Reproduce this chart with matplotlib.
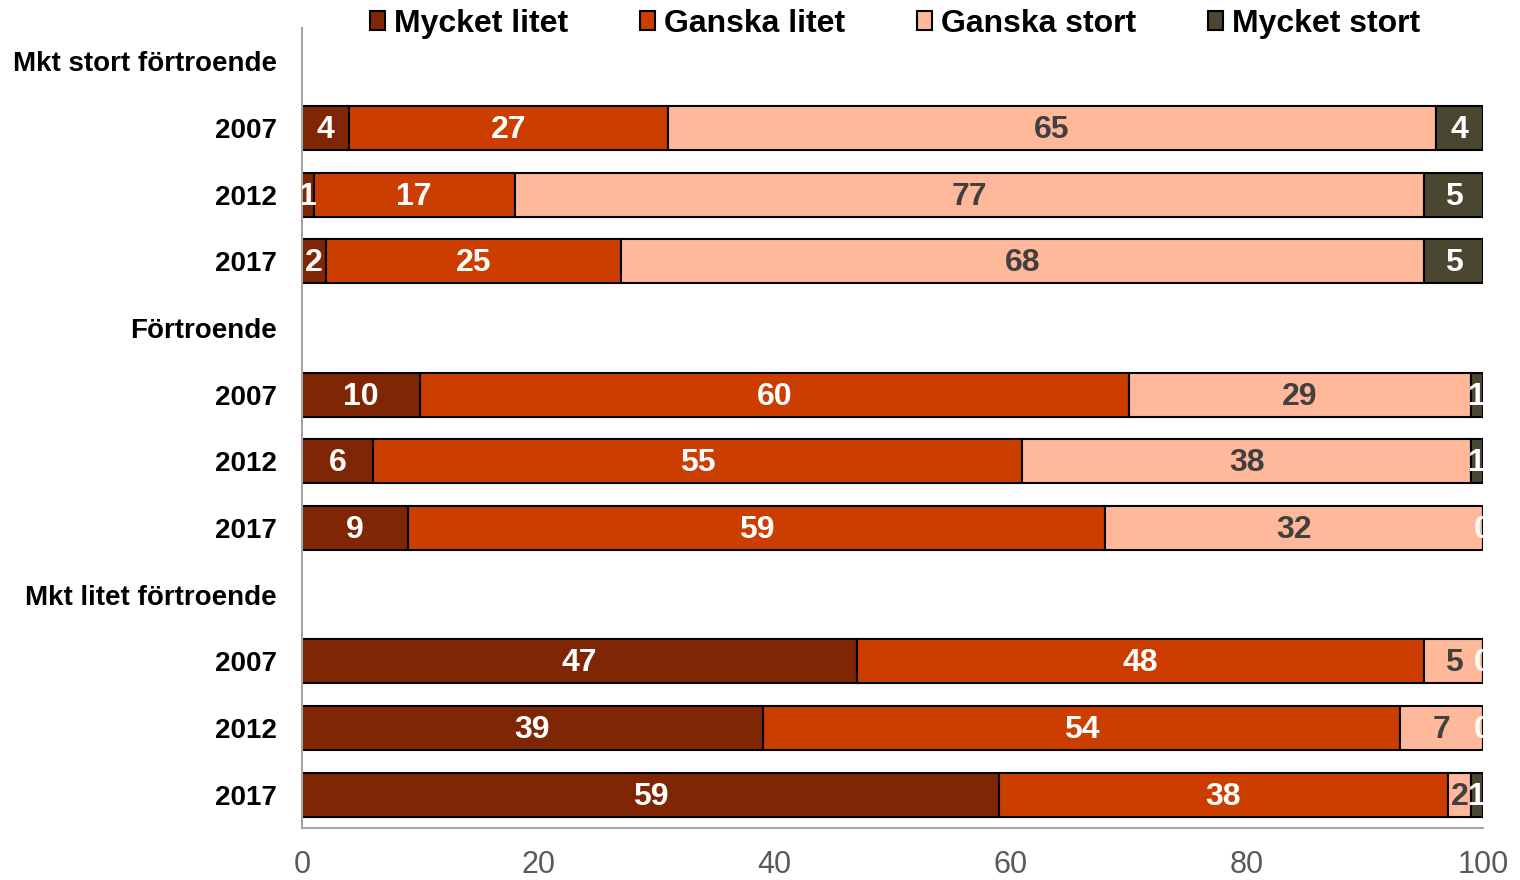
import numpy as np
import matplotlib.pyplot as plt

plt.rcParams['font.family'] = ['Liberation Sans', 'DejaVu Sans']

series = ['Mycket litet', 'Ganska litet', 'Ganska stort', 'Mycket stort']
colors = ['#7F2704', '#CC3D00', '#FFB89A', '#4B4630']
text_colors = ['white', 'white', '#404040', 'white']

row_labels = ['Mkt stort förtroende', '2007', '2012', '2017',
              'Förtroende', '2007', '2012', '2017',
              'Mkt litet förtroende', '2007', '2012', '2017']

# one list per series, None for header rows
mycket_litet = [None, 4, 1, 2, None, 10, 6, 9, None, 47, 39, 59]
ganska_litet = [None, 27, 17, 25, None, 60, 55, 59, None, 48, 54, 38]
ganska_stort = [None, 65, 77, 68, None, 29, 38, 32, None, 5, 7, 2]
mycket_stort = [None, 4, 5, 5, None, 1, 1, 0, None, 0, 0, 1]
values = [mycket_litet, ganska_litet, ganska_stort, mycket_stort]

fig = plt.figure(figsize=(15.2, 8.8), dpi=100)
ax = fig.add_axes([0.1987, 0.0591, 0.777, 0.909])

y = np.arange(len(row_labels))
left = np.zeros(len(row_labels))
for vals, name, col, tcol in zip(values, series, colors, text_colors):
    w = np.array([v if v is not None else 0 for v in vals], dtype=float)
    has = np.array([v is not None for v in vals])
    ax.barh(y[has], w[has], left=left[has], height=0.66, color=col,
            edgecolor='black', linewidth=1.5, label=name)
    for i in np.where(has)[0]:
        ax.text(left[i] + w[i] / 2, y[i] + 0.03, f'{int(w[i])}', ha='center',
                va='center', color=tcol, fontsize=23, fontweight='bold',
                clip_on=True)
    left = left + w

ax.set_xlim(0, 100)
ax.set_ylim(len(row_labels) - 0.5, -0.5)
ax.set_yticks(y)
ax.set_yticklabels(row_labels, fontsize=20, fontweight='bold')
ax.set_xticks(np.arange(0, 101, 20))
ax.tick_params(axis='x', length=0, labelsize=22, labelcolor='#595959', pad=16)
ax.tick_params(axis='y', length=0, pad=18)
for s in ['top', 'right']:
    ax.spines[s].set_visible(False)
for s in ['left', 'bottom']:
    ax.spines[s].set_color('#A6A6A6')
    ax.spines[s].set_linewidth(1.5)

leg = fig.legend(loc='center', bbox_to_anchor=(0.589, 0.973), ncol=4,
                 frameon=False, handlelength=0.45, handleheight=0.5,
                 handletextpad=0.3, columnspacing=2.25,
                 prop={'size': 23, 'weight': 'bold'})

fig.savefig('out.png', dpi=100)
